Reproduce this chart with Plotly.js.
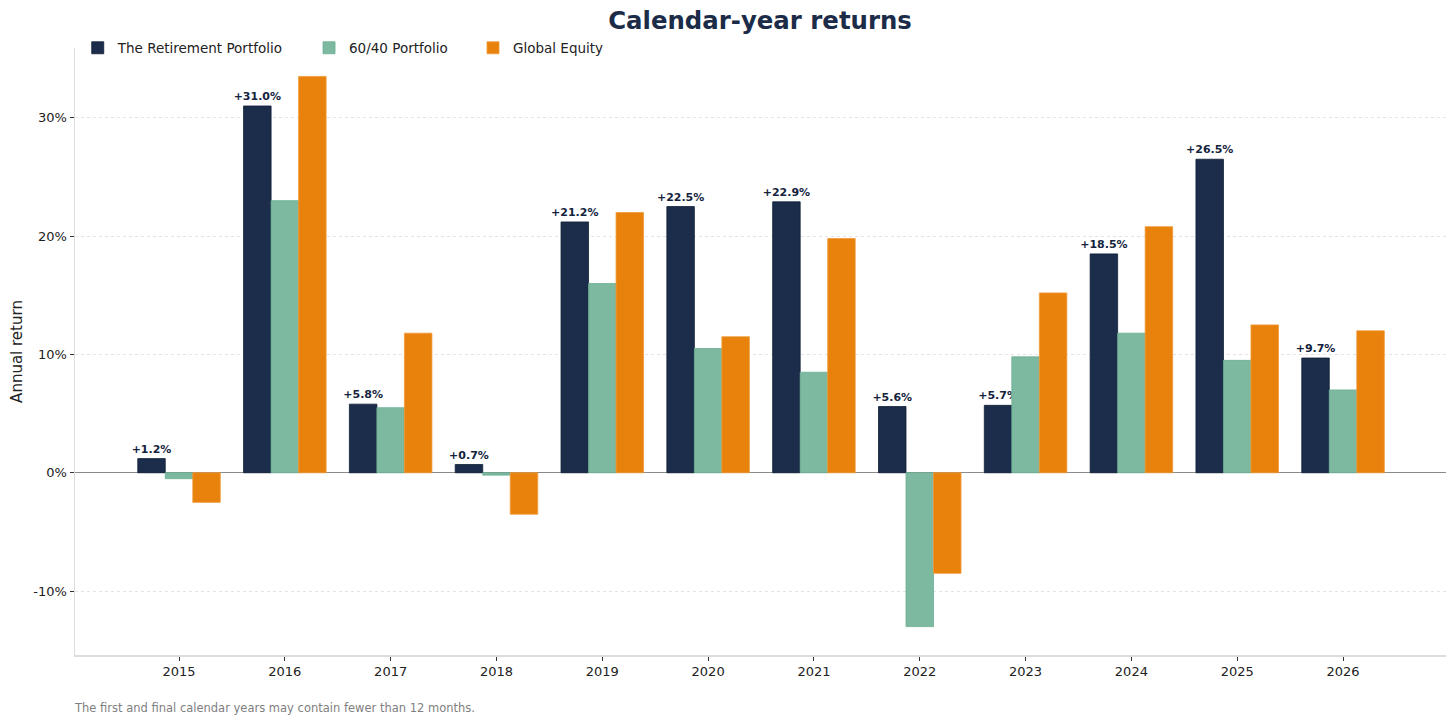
<!DOCTYPE html>
<html><head><meta charset="utf-8">
<script src="https://cdn.plot.ly/plotly-3.0.1.min.js"></script>
<style>html,body{margin:0;padding:0;background:#fff}#chart{width:1456px;height:724px}</style>
</head><body><div id="chart"></div>
<script>
const years = ['2015','2016','2017','2018','2019','2020','2021','2022','2023','2024','2025','2026'];
const retirement = [1.2, 31.0, 5.8, 0.7, 21.2, 22.5, 22.9, 5.6, 5.7, 18.5, 26.5, 9.7];
const sixtyForty = [-0.5, 23.0, 5.5, -0.2, 16.0, 10.5, 8.5, -13.0, 9.8, 11.8, 9.5, 7.0];
const globalEquity = [-2.5, 33.5, 11.8, -3.5, 22.0, 11.5, 19.8, -8.5, 15.2, 20.8, 12.5, 12.0];
const seriesNames = ['The Retirement Portfolio', '60/40 Portfolio', 'Global Equity'];
const yTicks = [-10, 0, 10, 20, 30];
const yTickText = ['-10%', '0%', '10%', '20%', '30%'];

const font = 'DejaVu Sans, Verdana, sans-serif';
const traces = [
  {type:'bar', name:seriesNames[0], x:years, y:retirement, legend:'legend',
   marker:{color:'#1b2d4a', line:{color:'#0f1e36', width:0.8}},
   text:retirement.map(v => (v>=0?'+':'') + v.toFixed(1) + '%'),
   textposition:'outside', cliponaxis:false, constraintext:'none',
   textfont:{family:font, size:11, color:'#14233d', weight:'bold'}},
  {type:'bar', name:seriesNames[1], x:years, y:sixtyForty, legend:'legend2',
   marker:{color:'#7db9a0', line:{color:'#6aaf92', width:0.8}}, textposition:'none'},
  {type:'bar', name:seriesNames[2], x:years, y:globalEquity, legend:'legend3',
   marker:{color:'#e8820c', line:{color:'#f09a3a', width:0.8}}, textposition:'none'}
];
const legBase = {orientation:'h', xanchor:'left', y:1.0, yanchor:'middle',
  font:{family:font, size:13.5, color:'#222'}, bgcolor:'rgba(0,0,0,0)'};
const layout = {
  width:1456, height:724,
  margin:{l:75, r:10, t:48, b:69},
  paper_bgcolor:'#fff', plot_bgcolor:'#fff',
  font:{family:font, size:13, color:'#222'},
  title:{text:'<b>Calendar-year returns</b>', x:0.522, xanchor:'center', y:0.972, yanchor:'middle',
         font:{family:font, size:24.4, color:'#1b2b48'}},
  barmode:'group', bargap:0.22, bargroupgap:0,
  showlegend:true,
  legend:Object.assign({}, legBase, {x:0.002}),
  legend2:Object.assign({}, legBase, {x:0.1707}),
  legend3:Object.assign({}, legBase, {x:0.2903}),
  xaxis:{type:'category', range:[-0.983, 11.973], showgrid:false, zeroline:false,
         showline:true, linecolor:'#dddddd', linewidth:1.5,
         ticks:'outside', ticklen:4, tickcolor:'#333', tickwidth:1,
         tickfont:{family:font, size:13, color:'#222'}},
  yaxis:{range:[-15.4, 35.9], tickvals:yTicks, ticktext:yTickText,
         showgrid:true, gridcolor:'#dcdcdc', griddash:'dot', gridwidth:0.8,
         zeroline:true, zerolinecolor:'#8a8a8a', zerolinewidth:1.2,
         showline:true, linecolor:'#dddddd', linewidth:1.5,
         ticks:'outside', ticklen:4, tickcolor:'#333', tickwidth:1,
         tickfont:{family:font, size:13, color:'#222'},
         title:{text:'Annual return', font:{family:font, size:15, color:'#222'}, standoff:7}},
  annotations:[{xref:'paper', yref:'paper', x:0, xanchor:'left', xshift:-3, y:-0.088, yanchor:'middle',
    text:'The first and final calendar years may contain fewer than 12 months.', showarrow:false,
    font:{family:font, size:11.5, color:'#808080'}}]
};
Plotly.newPlot('chart', traces, layout, {displayModeBar:false, staticPlot:true});
</script></body></html>
